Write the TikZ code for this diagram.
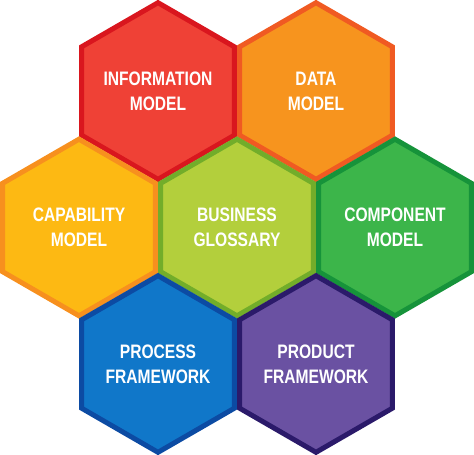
\documentclass[tikz,border=0pt]{standalone}
\usepackage{fontspec}
\setmainfont{Liberation Sans}[FakeStretch=0.8]
\definecolor{infofill}{HTML}{EF4136}
\definecolor{infoline}{HTML}{D9161E}
\definecolor{datafill}{HTML}{F7941E}
\definecolor{dataline}{HTML}{F05A22}
\definecolor{capfill}{HTML}{FDB913}
\definecolor{capline}{HTML}{F7901E}
\definecolor{busfill}{HTML}{B3CF3C}
\definecolor{busline}{HTML}{72AD2A}
\definecolor{compfill}{HTML}{3CB54A}
\definecolor{compline}{HTML}{16933A}
\definecolor{procfill}{HTML}{1077C9}
\definecolor{procline}{HTML}{0C4BA3}
\definecolor{prodfill}{HTML}{6A51A2}
\definecolor{prodline}{HTML}{2B1A6A}
\tikzset{
  hexcell/.style={line width=5pt, line join=miter},
  hexlabel/.style={text=white, align=center, font=\bfseries\fontsize{19.5}{25}\selectfont, inner sep=0pt}
}
\newcommand{\hexat}[6]{%
  \draw[hexcell, fill=#3, draw=#4, shift={(#1,#2)}]
    (90:88.3) -- (30:88.3) -- (-30:88.3) -- (-90:88.3) -- (-150:88.3) -- (150:88.3) -- cycle;
  \node[hexlabel] (#5) at (#1,#2) {#6};
}
\begin{document}
\begin{tikzpicture}[x=1pt,y=-1pt]
\useasboundingbox (0,0) rectangle (474,455);
\hexat{158}{91}{infofill}{infoline}{info}{INFORMATION\\MODEL}
\hexat{316}{91}{datafill}{dataline}{data}{DATA\\MODEL}
\hexat{79}{227.5}{capfill}{capline}{cap}{CAPABILITY\\MODEL}
\hexat{237}{227.5}{busfill}{busline}{bus}{BUSINESS\\GLOSSARY}
\hexat{395}{227.5}{compfill}{compline}{comp}{COMPONENT\\MODEL}
\hexat{158}{364}{procfill}{procline}{proc}{PROCESS\\FRAMEWORK}
\hexat{316}{364}{prodfill}{prodline}{prod}{PRODUCT\\FRAMEWORK}
\end{tikzpicture}
\end{document}
